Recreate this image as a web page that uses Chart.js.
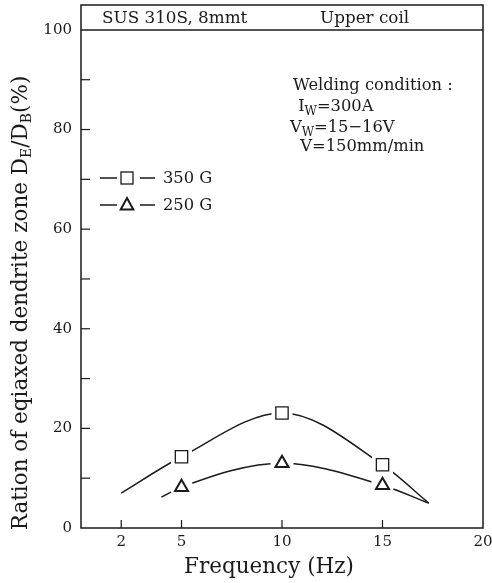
<!DOCTYPE html>
<html>
<head>
<meta charset="utf-8">
<script src="https://cdn.jsdelivr.net/npm/chart.js@4.4.1/dist/chart.umd.min.js"></script>
<style>
html,body{margin:0;padding:0;background:#fff;}
#wrap{width:492px;height:583px;position:relative;}
</style>
</head>
<body>
<div id="wrap"><canvas id="c" width="492" height="583"></canvas></div>
<script>
// ---- data ----
const markerFreq = [5, 10, 15];
const g350 = [14.3, 23.1, 12.7];
const g250 = [8.2, 13.0, 8.6];
// fitted curves (incl. free ends of the drawn lines)
const curve350Freq = [2, 5, 10, 15, 17.3];
const curve350Val  = [7.0, 14.3, 23.1, 12.7, 5.0];
const curve250Freq = [4, 5, 10, 15, 17.3];
const curve250Val  = [6.2, 8.2, 13.0, 8.6, 5.0];
const xTicks = [2, 5, 10, 15, 20];
const yTicks = [0, 10, 20, 30, 40, 50, 60, 70, 80, 90, 100];
const yLabelStep = 20;
const seriesNames = ['350 G', '250 G'];
const headerLeft = 'SUS 310S, 8mmt';
const headerRight = 'Upper coil';
const xTitle = 'Frequency (Hz)';

const FONT = '"DejaVu Serif", "Liberation Serif", serif';
const INK = '#1a1a1a';

function pts(xs, ys){ return xs.map((x,i)=>({x:x, y:ys[i]})); }

// text with subscripts: parts = [[text, isSub], ...]
function drawRich(ctx, parts, x, y, size, subSize, align){
  let total = 0;
  const widths = parts.map(p=>{ ctx.font = (p[1]?subSize:size)+'px '+FONT; const w = ctx.measureText(p[0]).width; total += w; return w;});
  let cx = align==='center' ? x - total/2 : x;
  parts.forEach((p,i)=>{
    ctx.font = (p[1]?subSize:size)+'px '+FONT;
    ctx.fillText(p[0], cx, p[1] ? y + size*0.3 : y);
    cx += widths[i];
  });
}

// white gaps in the curves around each marker, then the markers on top
const gaps = {
  id:'gaps',
  afterDatasetsDraw(chart){
    const ctx = chart.ctx, a = chart.chartArea;
    const markerSets = [2, 3];
    ctx.save();
    ctx.fillStyle = '#fff';
    markerSets.forEach(di=>{
      const meta = chart.getDatasetMeta(di);
      const isRect = chart.data.datasets[di].pointStyle === 'rect';
      meta.data.forEach(el=>{
        ctx.beginPath();
        if(isRect){ ctx.rect(el.x-10.5, el.y-10.5, 21, 21); }
        else { ctx.arc(el.x, el.y, 11.5, 0, Math.PI*2); }
        ctx.fill();
      });
    });
    ctx.restore();
    markerSets.forEach(di=>{ chart.getDatasetMeta(di).data.forEach(el=>el.draw(ctx, a)); });
  }
};

const decor = {
  id:'decor',
  afterDraw(chart){
    const ctx = chart.ctx, a = chart.chartArea;
    const xs = chart.scales.x, ys = chart.scales.y;
    ctx.save();
    ctx.strokeStyle = INK; ctx.fillStyle = INK;
    // frame
    ctx.lineWidth = 1.5;
    ctx.strokeRect(a.left, a.top, a.right-a.left, a.bottom-a.top);
    const y100 = ys.getPixelForValue(100);
    ctx.beginPath(); ctx.moveTo(a.left, y100); ctx.lineTo(a.right, y100); ctx.stroke();
    // inward ticks
    ctx.lineWidth = 1.2;
    yTicks.forEach(v=>{ if(v===0||v===100) return; const p = ys.getPixelForValue(v);
      ctx.beginPath(); ctx.moveTo(a.left, p); ctx.lineTo(a.left+9, p); ctx.stroke(); });
    xTicks.forEach(v=>{ if(v===20) return; const p = xs.getPixelForValue(v);
      ctx.beginPath(); ctx.moveTo(p, a.bottom); ctx.lineTo(p, a.bottom-8); ctx.stroke(); });
    // header
    ctx.textBaseline = 'middle'; ctx.textAlign = 'left';
    ctx.font = '16.8px '+FONT;
    const hy = (a.top + y100)/2 + 1;
    ctx.fillText(headerLeft, a.left+21, hy);
    ctx.fillText(headerRight, a.left+239, hy);
    // welding condition
    const wx = a.left + 212;
    drawRich(ctx, [['Welding condition :', false]], wx, 86, 16.3, 12, 'left');
    drawRich(ctx, [[' I', false], ['W', true], ['=300A', false]], wx, 107, 16.3, 12, 'left');
    drawRich(ctx, [['V', false], ['W', true], ['=15\u221216V', false]], wx-3, 128, 16.3, 12, 'left');
    drawRich(ctx, [['  V=150mm/min', false]], wx-3, 147, 16.3, 12, 'left');
    // legend
    const rows = [178, 205];
    rows.forEach((ry,i)=>{
      ctx.strokeStyle = INK; ctx.lineWidth = 1.3;
      ctx.beginPath(); ctx.moveTo(a.left+19, ry); ctx.lineTo(a.left+36, ry);
      ctx.moveTo(a.left+59, ry); ctx.lineTo(a.left+74, ry); ctx.stroke();
      const mx = a.left+46;
      if(i===0){
        ctx.fillStyle='#fff'; ctx.fillRect(mx-6, ry-6, 12, 12);
        ctx.lineWidth=1.3; ctx.strokeRect(mx-6, ry-6, 12, 12);
      } else {
        ctx.lineWidth=2; ctx.beginPath();
        ctx.moveTo(mx, ry-7); ctx.lineTo(mx+6.3, ry+4.5); ctx.lineTo(mx-6.3, ry+4.5); ctx.closePath(); ctx.stroke();
      }
      ctx.fillStyle = INK;
      ctx.font = '16.3px '+FONT; ctx.textAlign='left';
      ctx.fillText(seriesNames[i], a.left+82, ry+1);
    });
    // x title
    ctx.font = '21.5px '+FONT; ctx.textAlign = 'center';
    ctx.fillText(xTitle, 269, 567);
    // y title
    ctx.translate(21, 303); ctx.rotate(-Math.PI/2);
    ctx.textAlign = 'left';
    drawRich(ctx, [['Ration of eqiaxed dendrite zone D', false], ['E', true], ['/D', false], ['B', true], ['(%)', false]], 0, 0, 21.5, 14, 'center');
    ctx.restore();
  }
};

new Chart(document.getElementById('c'), {
  type:'scatter',
  data:{ datasets:[
    { data:pts(curve350Freq, curve350Val), showLine:true, cubicInterpolationMode:'monotone', borderColor:INK, borderWidth:1.5, pointRadius:0 },
    { data:pts(curve250Freq, curve250Val), showLine:true, cubicInterpolationMode:'monotone', borderColor:INK, borderWidth:1.5, pointRadius:0 },
    { data:pts(markerFreq, g350), showLine:false, pointStyle:'rect', pointRadius:8.7, pointBackgroundColor:'#fff', pointBorderColor:INK, pointBorderWidth:1.3 },
    { data:pts(markerFreq, g250), showLine:false, pointStyle:'triangle', pointRadius:7.5, pointBackgroundColor:'#fff', pointBorderColor:INK, pointBorderWidth:2 }
  ]},
  options:{
    responsive:false, animation:false, devicePixelRatio:1,
    layout:{ autoPadding:false, padding:{ top:5, right:9, left:0, bottom:0 } },
    plugins:{ legend:{display:false}, tooltip:{enabled:false} },
    scales:{
      x:{ type:'linear', min:0, max:20,
        grid:{display:false, drawTicks:false}, border:{display:false},
        afterBuildTicks(s){ s.ticks = xTicks.map(v=>({value:v})); },
        afterFit(s){ s.height = 55; s.paddingLeft = 0; s.paddingRight = 0; },
        ticks:{ color:INK, font:{family:FONT, size:15}, padding:5, maxRotation:0, autoSkip:false }
      },
      y:{ type:'linear', min:0, max:105,
        grid:{display:false, drawTicks:false}, border:{display:false},
        afterBuildTicks(s){ s.ticks = yTicks.map(v=>({value:v})); },
        afterFit(s){ s.width = 81; s.paddingTop = 0; s.paddingBottom = 0; },
        ticks:{ color:INK, font:{family:FONT, size:15}, padding:9, autoSkip:false,
          callback(v){ return v % yLabelStep === 0 ? String(v) : ''; } }
      }
    }
  },
  plugins:[gaps, decor]
});
</script>
</body>
</html>
